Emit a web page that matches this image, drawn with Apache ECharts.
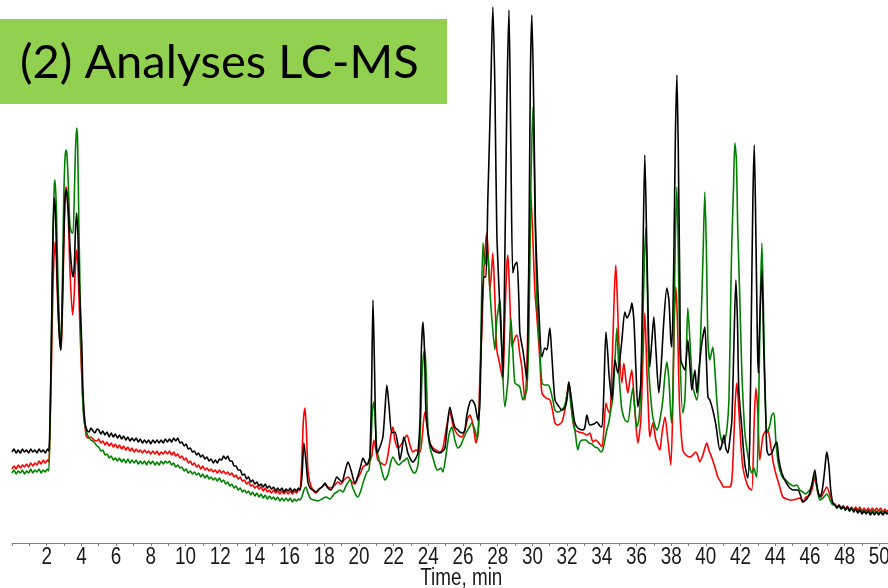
<!DOCTYPE html>
<html>
<head>
<meta charset="utf-8">
<title>Analyses LC-MS</title>
<script src="https://cdn.jsdelivr.net/npm/echarts@6/dist/echarts.min.js"></script>
<style>
  html, body { margin: 0; padding: 0; background: #ffffff; }
  #chart { width: 888px; height: 588px; }
</style>
</head>
<body>
<div id="chart"></div>
<script>
// Total ion chromatograms of three samples: [retention time (min), intensity]
const traceBlack = [
  [0.00,91],[0.12,94],[0.24,90],[0.36,93],[0.48,90],[0.60,94],[0.72,91],[0.84,93],[0.96,90],[1.08,94],[1.20,91],[1.32,93],[1.44,90],[1.56,94],
  [1.68,91],[1.80,93],[1.92,90],[2.04,94],[2.12,92],
  [2.19,123],[2.28,213],[2.36,303],[2.44,345],[2.51,328],[2.59,273],[2.71,213],[2.81,193],[2.88,223],[2.97,293],[3.05,343],[3.11,353],[3.17,348],
  [3.26,328],[3.34,298],[3.46,271],[3.53,266],[3.60,281],[3.66,313],[3.73,330],[3.80,308],[3.89,253],[4.02,200],[4.09,153],[4.21,120],[4.32,113],
  [4.44,111],[4.55,115],[4.67,112],[4.78,110],[4.90,114],
  [5.00,113],[5.12,109],[5.24,112],[5.36,108],[5.48,111],[5.60,106],[5.72,110],[5.84,106],[5.96,109],[6.08,105],[6.20,108],[6.32,104],[6.44,107],
  [6.56,103],[6.68,106],[6.80,102],[6.92,105],[7.04,102],[7.16,105],[7.28,101],[7.40,104],[7.52,100],[7.64,103],[7.76,100],[7.88,103],[8.00,99],
  [8.12,103],[8.24,100],[8.36,103],[8.48,100],[8.60,103],[8.72,100],[8.84,104],[8.96,101],[9.08,104],[9.20,101],[9.32,105],[9.44,102],[9.56,105],
  [9.68,100],[9.80,101],[9.92,97],[10.04,99],[10.16,94],[10.28,95],[10.40,91],[10.52,92],[10.64,88],[10.76,90],[10.88,86],[11.00,88],[11.12,84],
  [11.24,86],[11.36,82],[11.48,84],[11.60,80],[11.72,83],[11.84,80],[11.96,84],[12.08,83],[12.20,87],[12.32,84],[12.44,87],[12.56,82],[12.68,82],
  [12.80,77],[12.92,77],[13.04,73],[13.16,73],[13.28,68],[13.40,69],[13.52,64],[13.64,66],[13.76,61],[13.88,63],[14.00,59],[14.12,61],[14.24,57],
  [14.36,59],[14.48,56],[14.60,59],[14.72,55],[14.84,57],[14.96,54],[15.08,56],[15.20,52],[15.32,55],[15.44,52],[15.56,55],[15.68,51],[15.80,54],
  [15.92,52],[16.04,55],[16.16,51],[16.28,54],[16.40,52],[16.52,55],
  [16.60,53],[16.71,65],[16.83,100],[16.94,83],[17.06,61],[17.18,55],[17.35,53],[17.52,51],
  [17.69,54],[17.87,56],[18.04,60],[18.21,55],[18.39,53],[18.56,59],[18.73,66],[18.90,63],[19.02,61],[19.19,71],[19.37,81],[19.54,73],[19.77,60],
  [19.94,67],[20.12,78],[20.23,85],[20.35,81],[20.46,78],[20.58,83],[20.63,86],[20.72,143],[20.81,243],[20.89,183],[20.98,103],[21.04,90],[21.21,96],
  [21.38,106],[21.50,133],[21.61,158],[21.73,138],[21.90,110],[22.07,111],[22.25,98],[22.36,83],[22.48,93],[22.59,106],[22.71,99],[22.82,90],
  [23.00,83],[23.11,81],[23.29,85],[23.40,90],[23.52,123],[23.60,193],[23.69,221],[23.78,193],[23.86,133],[23.98,110],[24.09,100],[24.27,93],
  [24.44,91],[24.67,90],[24.84,92],[24.96,95],[25.10,118],[25.24,136],[25.39,125],[25.53,116],[25.71,113],[25.82,111],[25.99,110],[26.11,113],
  [26.22,128],[26.40,141],[26.51,143],[26.69,138],[26.86,123],[26.97,140],[27.09,230],[27.20,266],[27.32,266],[27.43,343],[27.52,400],[27.61,463],
  [27.72,536],[27.84,453],[27.95,310],[28.13,233],[28.24,193],[28.30,166],[28.41,283],[28.53,443],[28.65,533],[28.76,393],[28.87,270],[28.99,278],
  [29.11,281],[29.22,243],[29.28,210],[29.45,193],[29.57,178],[29.68,163],[29.80,293],[29.88,463],[29.97,528],[30.09,423],[30.17,323],[30.26,276],
  [30.37,233],[30.55,186],[30.72,195],[30.84,193],[30.95,208],[31.01,215],[31.12,188],[31.30,143],[31.47,138],[31.70,133],[31.87,135],[31.99,143],
  [32.10,161],[32.22,148],[32.33,133],[32.45,120],[32.62,115],[32.91,113],[33.03,116],[33.14,128],[33.31,118],[33.54,119],[33.72,121],[33.89,117],
  [34.01,116],[34.12,153],[34.24,211],[34.35,188],[34.41,170],[34.58,143],[34.76,183],[34.93,170],[35.04,183],[35.16,203],[35.33,231],[35.45,225],
  [35.56,228],[35.68,235],[35.73,240],[35.85,223],[35.97,173],[36.08,136],[36.25,160],[36.37,283],[36.48,388],[36.60,293],[36.77,176],[36.89,203],
  [37.00,226],[37.12,193],[37.29,150],[37.41,173],[37.58,223],[37.75,255],[37.87,243],[37.98,203],[38.04,196],[38.16,293],[38.24,403],[38.33,468],
  [38.41,393],[38.50,253],[38.56,183],[38.79,173],[38.96,203],[39.08,178],[39.19,153],[39.37,173],[39.48,150],[39.60,173],[39.77,200],[39.94,216],
  [40.03,183],[40.12,146],[40.23,143],[40.40,133],[40.58,118],[40.81,93],[40.92,98],[41.04,108],[41.15,95],[41.27,90],[41.38,103],[41.50,123],
  [41.61,193],[41.73,263],[41.82,223],[41.90,153],[42.07,116],[42.25,78],[42.42,65],[42.53,103],[42.62,223],[42.71,343],[42.79,398],[42.88,313],
  [42.97,203],[43.02,170],[43.11,223],[43.23,273],[43.34,193],[43.46,123],[43.52,93],[43.63,88],[43.80,90],[43.98,98],[44.09,101],[44.21,83],
  [44.38,70],[44.61,61],[44.84,55],[45.07,53],[45.30,53],[45.47,47],[45.59,41],[45.76,43],[45.88,46],[45.99,50],[46.11,58],[46.28,73],[46.40,58],
  [46.57,46],[46.69,51],[46.80,65],[46.92,85],[46.97,91],[47.09,78],[47.20,53],[47.32,40],
  [47.44,38],[47.56,35],[47.68,38],[47.80,34],[47.92,37],[48.04,33],[48.16,36],[48.28,32],[48.40,35],[48.52,31],[48.64,34],[48.76,30],[48.88,33],
  [49.00,29],[49.12,32],[49.24,29],[49.36,32],[49.48,28],[49.60,31],[49.72,28],[49.84,31],[49.96,28],[50.08,31],[50.20,28],[50.32,31],[50.44,29],[50.49,30]
];

const traceRed = [
  [0.00,74],[0.12,77],[0.24,74],[0.36,78],[0.48,75],[0.60,78],[0.72,76],[0.84,79],[0.96,76],[1.08,80],[1.20,77],[1.32,80],[1.44,78],[1.56,82],
  [1.68,79],[1.80,83],[1.92,80],[2.04,83],[2.12,81],
  [2.19,113],[2.28,183],[2.36,253],[2.48,301],[2.56,283],[2.65,233],[2.81,193],[2.88,213],[2.97,283],[3.05,343],[3.11,356],[3.17,351],[3.26,318],
  [3.34,273],[3.49,228],[3.57,243],[3.66,278],[3.73,293],[3.80,278],[3.92,213],[4.03,163],[4.12,133],[4.27,108],[4.38,105],[4.55,106],[4.73,103],
  [4.90,102],
  [5.00,104],[5.12,100],[5.24,102],[5.36,98],[5.48,101],[5.60,97],[5.72,100],[5.84,96],[5.96,99],[6.08,95],[6.20,98],[6.32,94],[6.44,97],[6.56,93],
  [6.68,96],[6.80,92],[6.92,95],[7.04,91],[7.16,94],[7.28,91],[7.40,93],[7.52,90],[7.64,93],[7.76,90],[7.88,92],[8.00,89],[8.12,92],[8.24,89],
  [8.36,92],[8.48,88],[8.60,91],[8.72,89],[8.84,92],[8.96,89],[9.08,92],[9.20,88],[9.32,91],[9.44,87],[9.56,89],[9.68,85],[9.80,87],[9.92,83],
  [10.04,85],[10.16,80],[10.28,82],[10.40,78],[10.52,80],[10.64,76],[10.76,78],[10.88,74],[11.00,77],[11.12,73],[11.24,75],[11.36,72],[11.48,74],
  [11.60,71],[11.72,73],[11.84,70],[11.96,73],[12.08,70],[12.20,72],[12.32,69],[12.44,71],[12.56,68],[12.68,70],[12.80,66],[12.92,68],[13.04,64],
  [13.16,66],[13.28,62],[13.40,63],[13.52,59],[13.64,61],[13.76,57],[13.88,58],[14.00,55],[14.12,57],[14.24,54],[14.36,56],[14.48,52],[14.60,55],
  [14.72,51],[14.84,53],[14.96,50],[15.08,53],[15.20,50],[15.32,52],[15.44,49],[15.56,52],[15.68,49],[15.80,52],[15.92,49],[16.04,52],[16.16,49],
  [16.28,52],[16.40,50],[16.52,53],
  [16.60,53],[16.71,83],
  [16.80,123],[16.89,135],[16.97,113],[17.06,73],[17.18,60],[17.35,53],[17.52,50],[17.69,53],[17.87,56],[18.04,58],[18.21,56],[18.39,55],[18.62,58],
  [18.79,61],[18.96,59],[19.14,63],[19.37,66],[19.60,61],[19.77,59],[19.94,65],[20.12,71],[20.23,76],[20.40,78],[20.58,80],[20.75,88],[20.86,103],
  [20.98,93],[21.09,83],[21.27,80],[21.50,78],[21.67,88],[21.84,108],[21.96,116],[22.07,103],[22.25,95],[22.42,98],[22.59,103],[22.77,108],[22.94,98],
  [23.11,91],[23.29,93],[23.52,91],[23.63,103],[23.80,131],[23.92,118],[24.09,100],[24.27,95],[24.44,93],[24.67,91],[24.84,95],[25.02,113],[25.24,131],
  [25.42,118],[25.53,113],[25.71,108],[25.94,106],[26.11,113],[26.28,125],[26.40,128],[26.51,123],[26.63,113],[26.74,100],[26.86,108],[26.97,163],
  [27.09,213],[27.20,273],[27.32,303],[27.38,310],[27.49,273],[27.55,253],[27.67,278],[27.72,290],[27.84,243],[27.95,193],[28.07,183],[28.18,173],
  [28.30,163],[28.41,223],[28.53,278],[28.59,288],[28.70,243],[28.82,196],[28.99,205],[29.11,208],[29.28,188],[29.39,176],[29.57,143],[29.68,173],
  [29.80,273],[29.91,350],[30.03,303],[30.14,253],[30.26,226],[30.43,183],[30.55,150],[30.78,145],[31.01,143],[31.18,131],[31.30,120],[31.47,118],
  [31.70,121],[31.87,133],[31.99,148],[32.10,161],[32.22,143],[32.33,123],[32.45,113],[32.68,111],[32.91,110],[33.14,108],[33.31,110],[33.49,101],
  [33.66,103],[33.83,100],[34.01,96],[34.12,113],[34.24,140],[34.35,133],[34.47,130],[34.58,173],[34.64,203],[34.73,253],[34.81,278],[34.90,243],
  [34.99,198],[35.16,160],[35.27,180],[35.39,163],[35.50,150],[35.62,163],[35.73,173],[35.85,148],[35.97,118],[36.08,100],[36.25,123],[36.37,183],
  [36.48,230],[36.60,173],[36.71,123],[36.77,106],[36.94,120],[37.12,103],[37.35,93],[37.46,108],[37.64,126],[37.81,103],[37.98,78],[38.10,143],
  [38.18,223],[38.27,256],[38.36,223],[38.44,163],[38.50,130],[38.67,93],[38.85,88],[39.08,86],[39.25,88],[39.42,91],[39.54,87],[39.65,81],[39.83,88],
  [39.94,95],[40.06,100],[40.17,93],[40.35,85],[40.52,76],[40.69,66],[40.86,61],[41.04,56],[41.21,56],[41.38,56],[41.50,63],[41.61,103],[41.70,143],
  [41.79,160],[41.90,133],[42.02,98],[42.13,76],[42.30,63],[42.48,55],[42.65,53],[42.77,113],[42.88,155],[42.99,133],[43.11,83],[43.28,106],
  [43.40,111],[43.57,113],[43.69,103],[43.86,83],[43.98,73],[44.09,66],[44.26,56],[44.44,46],[44.67,44],[44.84,43],[45.01,43],[45.24,44],[45.42,45],
  [45.59,41],[45.76,46],[45.94,47],[46.11,53],[46.28,65],[46.46,51],[46.63,46],[46.80,51],[46.97,56],[47.15,48],[47.32,40],
  [47.44,39],[47.56,36],[47.68,38],[47.80,35],[47.92,37],[48.04,34],[48.16,37],[48.28,33],[48.40,36],[48.52,33],[48.64,36],[48.76,33],[48.88,36],
  [49.00,32],[49.12,35],[49.24,32],[49.36,35],[49.48,32],[49.60,35],[49.72,32],[49.84,35],[49.96,32],[50.08,35],[50.20,31],[50.32,34],[50.44,31],[50.49,33]
];

const traceGreen = [
  [0.00,70],[0.12,73],[0.24,69],[0.36,72],[0.48,70],[0.60,73],[0.72,69],[0.84,72],[0.96,70],[1.08,74],[1.20,70],[1.32,73],[1.44,71],[1.56,74],
  [1.68,70],[1.80,73],[1.92,71],[2.04,74],[2.12,72],
  [2.19,113],[2.28,213],[2.36,313],[2.44,358],[2.48,363],[2.56,333],[2.65,263],[2.81,193],[2.88,233],[2.97,333],[3.05,383],[3.11,393],[3.17,388],
  [3.26,353],[3.34,318],[3.46,310],[3.52,310],[3.60,353],[3.66,393],[3.73,415],[3.78,403],[3.86,313],[3.98,203],[4.06,150],[4.15,123],[4.27,113],
  [4.38,107],[4.55,103],[4.73,101],[4.90,97],
  [5.00,96],[5.12,92],[5.24,93],[5.36,88],[5.48,89],[5.60,85],[5.72,87],[5.84,83],[5.96,85],[6.08,82],[6.20,85],[6.32,81],[6.44,84],[6.56,80],
  [6.68,84],[6.80,80],[6.92,83],[7.04,80],[7.16,83],[7.28,79],[7.40,82],[7.52,79],[7.64,82],[7.76,78],[7.88,82],[8.00,79],[8.12,82],[8.24,78],
  [8.36,81],[8.48,78],[8.60,82],[8.72,79],[8.84,82],[8.96,80],[9.08,82],[9.20,78],[9.32,80],[9.44,76],[9.56,78],[9.68,75],[9.80,76],[9.92,72],
  [10.04,74],[10.16,70],[10.28,72],[10.40,69],[10.52,71],[10.64,68],[10.76,70],[10.88,66],[11.00,69],[11.12,65],[11.24,68],[11.36,64],[11.48,66],
  [11.60,63],[11.72,65],[11.84,62],[11.96,65],[12.08,61],[12.20,63],[12.32,59],[12.44,61],[12.56,57],[12.68,59],[12.80,55],[12.92,57],[13.04,53],
  [13.16,55],[13.28,51],[13.40,53],[13.52,50],[13.64,52],[13.76,48],[13.88,51],[14.00,47],[14.12,50],[14.24,46],[14.36,49],[14.48,45],[14.60,48],
  [14.72,44],[14.84,47],[14.96,44],[15.08,46],[15.20,43],[15.32,46],[15.44,42],[15.56,45],[15.68,42],[15.80,45],[15.92,42],[16.04,45],[16.16,41],
  [16.28,44],[16.40,42],[16.52,44],
  [16.60,43],[16.71,46],[16.83,53],[16.94,56],[17.06,50],[17.23,44],[17.41,43],[17.64,42],[17.87,44],[18.10,46],[18.33,44],[18.56,49],
  [18.73,51],[18.90,53],[19.08,51],[19.25,57],[19.48,63],[19.65,55],[19.83,48],[19.94,46],[20.12,53],[20.29,63],[20.46,71],[20.58,73],[20.69,98],
  [20.78,133],[20.86,141],[20.95,118],[21.04,93],[21.21,80],[21.38,68],[21.50,63],[21.67,68],[21.84,81],[21.96,86],[22.13,81],[22.30,78],[22.48,81],
  [22.65,83],[22.77,85],[22.94,77],[23.11,71],[23.23,70],[23.40,78],[23.52,103],[23.63,163],[23.72,188],[23.80,193],[23.89,163],[23.98,113],[24.09,96],
  [24.27,85],[24.44,75],[24.55,73],[24.73,75],[24.84,71],[25.02,88],[25.19,108],[25.36,116],[25.53,103],[25.71,95],[25.88,98],[25.99,103],[26.17,110],
  [26.34,115],[26.51,120],[26.69,113],[26.80,105],[26.92,123],[27.03,203],[27.15,300],[27.26,278],[27.38,293],[27.46,283],[27.55,253],[27.67,223],
  [27.84,193],[27.95,223],[28.13,243],[28.24,193],[28.41,136],[28.59,163],[28.76,225],[28.87,193],[28.99,160],[29.16,158],[29.28,156],[29.45,143],
  [29.57,148],[29.68,153],[29.80,213],[29.91,353],[30.03,436],[30.14,343],[30.26,243],[30.43,193],[30.55,160],[30.72,158],[30.89,158],[31.01,155],
  [31.18,143],[31.30,133],[31.47,131],[31.70,133],[31.87,138],[31.99,148],[32.10,156],[32.22,138],[32.33,123],[32.45,113],[32.62,93],[32.74,101],
  [32.91,103],[33.08,103],[33.26,100],[33.43,99],[33.60,96],[33.77,95],[33.95,91],[34.06,93],[34.18,103],[34.29,113],[34.41,121],[34.52,133],
  [34.64,146],[34.76,183],[34.87,215],[34.99,170],[35.10,143],[35.16,133],[35.33,123],[35.50,121],[35.68,143],[35.79,155],[35.91,133],[36.02,116],
  [36.14,123],[36.25,153],[36.37,223],[36.46,283],[36.54,315],[36.63,253],[36.71,173],[36.89,133],[37.00,121],[37.18,113],[37.35,123],[37.52,143],
  [37.64,168],[37.75,181],[37.87,163],[37.98,128],[38.04,120],[38.16,213],[38.24,303],[38.33,356],[38.41,293],[38.50,193],[38.67,130],[38.79,143],
  [38.88,193],[38.96,235],[39.08,203],[39.19,168],[39.25,156],[39.37,148],[39.48,143],[39.60,163],[39.71,213],[39.83,283],[39.94,351],[40.03,293],
  [40.12,203],[40.23,183],[40.40,196],[40.52,173],[40.63,143],[40.81,110],[40.98,100],[41.09,103],[41.21,113],[41.33,143],[41.44,253],[41.50,303],
  [41.59,353],[41.67,400],[41.76,383],[41.84,313],[41.96,243],[42.07,173],[42.25,110],[42.42,88],[42.53,76],[42.65,70],[42.77,75],[42.88,68],
  [42.94,66],[43.05,143],[43.14,243],[43.23,300],[43.31,243],[43.40,163],[43.52,110],[43.69,118],[43.80,128],[43.92,130],[44.03,103],[44.15,83],
  [44.26,73],[44.44,65],[44.61,63],[44.84,59],[45.07,57],[45.24,58],[45.42,53],[45.59,51],[45.76,49],[45.88,51],[45.99,53],[46.11,58],[46.28,68],
  [46.40,55],[46.57,43],[46.74,45],[46.86,47],[46.97,49],[47.09,46],[47.20,41],[47.32,38],
  [47.44,38],[47.56,35],[47.68,37],[47.80,34],[47.92,36],[48.04,33],[48.16,36],[48.28,32],[48.40,35],[48.52,32],[48.64,34],[48.76,31],[48.88,34],
  [49.00,31],[49.12,33],[49.24,30],[49.36,33],[49.48,30],[49.60,33],[49.72,30],[49.84,32],[49.96,30],[50.08,32],[50.20,29],[50.32,32],[50.44,30],[50.49,31]
];

const timeMin = 0;
const timeMax = 50.5;
const intensityMax = 543;
const tickLabels = [2, 4, 6, 8, 10, 12, 14, 16, 18, 20, 22, 24, 26, 28, 30, 32, 34, 36, 38, 40, 42, 44, 46, 48, 50];
const titleText = '(2) Analyses LC-MS';
const axisTitle = 'Time, min';

// Condensed look for the axis text: Liberation Sans squeezed horizontally
const axisFont = "23px 'Liberation Sans', Arial, sans-serif";
const axisSqueeze = 0.82;

const chart = echarts.init(document.getElementById('chart'), null, { renderer: 'canvas' });

function traceSeries(name, data, color) {
  return {
    name: name,
    type: 'line',
    data: data,
    showSymbol: false,
    symbol: 'none',
    smooth: 0.25,
    sampling: null,
    lineStyle: { color: color, width: 1.6, join: 'round' },
    emphasis: { disabled: true },
    animation: false
  };
}

chart.setOption({
  backgroundColor: '#ffffff',
  animation: false,
  grid: { left: 12, right: 0, top: 0, bottom: 45, containLabel: false },
  xAxis: {
    type: 'value',
    min: timeMin,
    max: timeMax,
    interval: 1,
    axisLine: { show: true, lineStyle: { color: '#808080', width: 1 } },
    axisTick: { show: true, length: 3, lineStyle: { color: '#808080' } },
    axisLabel: { show: false },
    splitLine: { show: false }
  },
  yAxis: { type: 'value', min: 0, max: intensityMax, show: false },
  series: [
    traceSeries('Red', traceRed, '#ff0000'),
    traceSeries('Green', traceGreen, '#008000'),
    traceSeries('Black', traceBlack, '#000000')
  ]
});

// Axis text placed from the axis scale, plus the title banner
const axisY = chart.convertToPixel({ yAxisIndex: 0 }, 0);
const graphics = [
  { type: 'rect', left: 0, top: 19, shape: { width: 447, height: 85 }, style: { fill: '#92d050' }, z: 100 },
  { type: 'text', x: 20, y: 63, style: { text: titleText, font: "47px 'Lato', 'Noto Sans', sans-serif", fill: '#000000', verticalAlign: 'middle', align: 'left' }, z: 101 }
];
tickLabels.forEach(function (v) {
  graphics.push({
    type: 'text',
    x: chart.convertToPixel({ xAxisIndex: 0 }, v),
    y: axisY + 3,
    scaleX: axisSqueeze,
    silent: true,
    style: { text: String(v), font: axisFont, fill: '#1a1a1a', align: 'center', verticalAlign: 'top' }
  });
});
graphics.push({
  type: 'text',
  x: chart.convertToPixel({ xAxisIndex: 0 }, 25.9),
  y: axisY + 24,
  scaleX: axisSqueeze,
  silent: true,
  style: { text: axisTitle, font: axisFont, fill: '#1a1a1a', align: 'center', verticalAlign: 'top' }
});
chart.setOption({ graphic: graphics });
</script>
</body>
</html>
